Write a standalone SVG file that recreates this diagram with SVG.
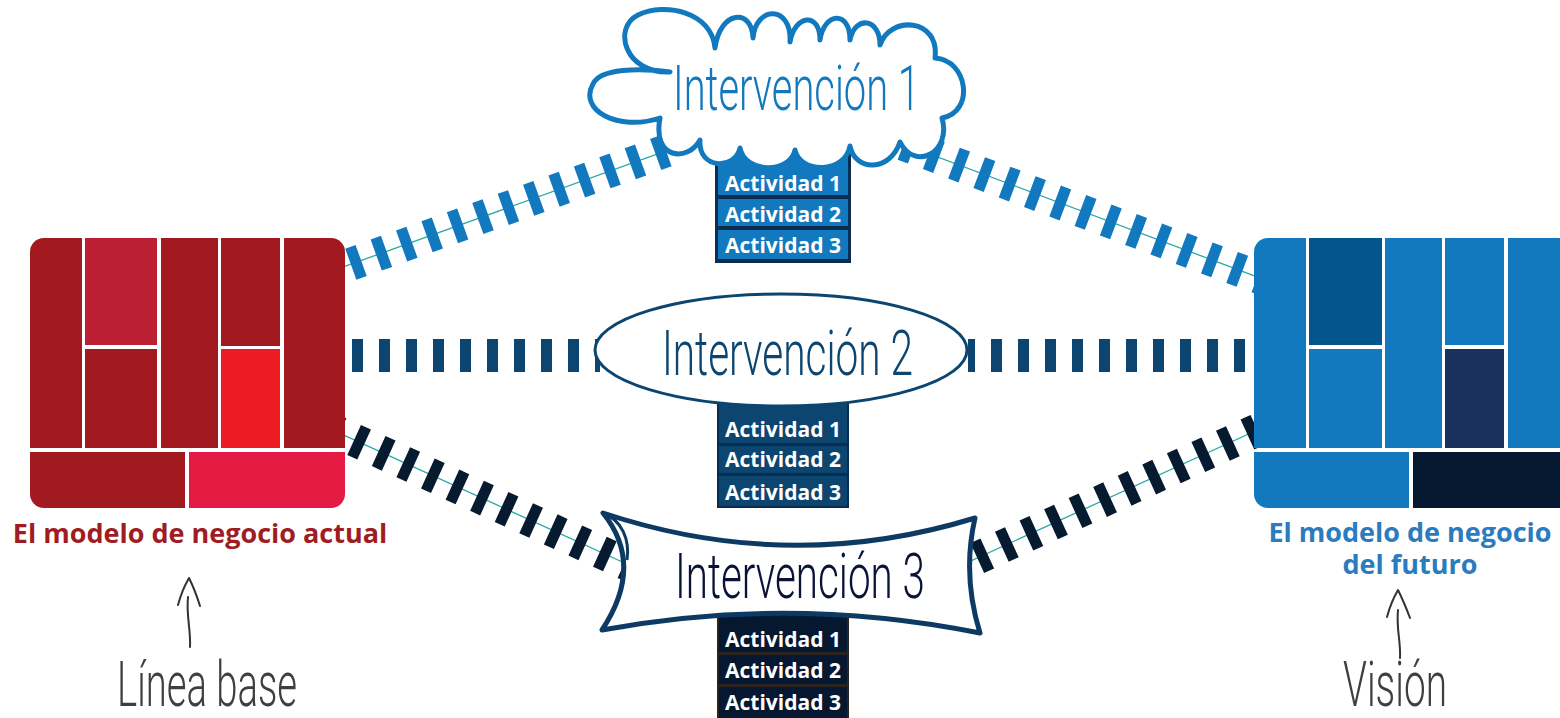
<svg xmlns="http://www.w3.org/2000/svg" width="1560" height="718" viewBox="0 0 1560 718">
<style>
.act{font-family:"Open Sans","Liberation Sans",sans-serif;font-weight:700;font-size:21px;fill:#ffffff;text-anchor:middle}
.thin{font-family:Roboto,"Liberation Sans",sans-serif;font-weight:300;font-size:63px}
.big{font-family:"Open Sans","Liberation Sans",sans-serif;font-weight:700;font-size:27px;text-anchor:middle}
.dash{fill:none;stroke-width:33;stroke-dasharray:11 16}
.teal{fill:none;stroke:#27A9A6;stroke-width:1.3}
.arrow{fill:none;stroke:#333333;stroke-width:2;stroke-linecap:round;stroke-linejoin:round}
</style>
<defs>
<clipPath id="clipL"><rect x="30" y="238" width="315" height="270" rx="14"/></clipPath>
<clipPath id="clipR"><rect x="1254" y="238" width="320" height="270" rx="14"/></clipPath>
</defs>
<rect x="0" y="0" width="1560" height="718" fill="#ffffff"/>

<g id="connectors">
  <line class="teal" x1="330" y1="271.7" x2="680" y2="145.8"/>
  <line class="dash" stroke="#1279BE" stroke-dashoffset="4.9" x1="330" y1="271.7" x2="680" y2="145.8"/>
  <line class="teal" x1="880" y1="135.4" x2="1265" y2="279.8"/>
  <line class="dash" stroke="#1279BE" stroke-dashoffset="2" x1="880" y1="135.4" x2="1265" y2="279.8"/>
  <line class="dash" stroke="#0B4570" stroke-dashoffset="20" x1="345" y1="355.5" x2="600" y2="355.5"/>
  <line class="dash" stroke="#0B4570" stroke-dashoffset="4" x1="968" y1="355.5" x2="1254" y2="355.5"/>
  <line class="teal" x1="335" y1="431.2" x2="640" y2="570"/>
  <line class="dash" stroke="#061A30" stroke-dashoffset="6" x1="335" y1="431.2" x2="640" y2="570"/>
  <line class="teal" x1="960" y1="565.9" x2="1265" y2="426.5"/>
  <line class="dash" stroke="#061A30" stroke-dashoffset="8" x1="960" y1="565.9" x2="1265" y2="426.5"/>
</g>

<g id="modelo-actual">
  <g clip-path="url(#clipL)">
    <rect x="30" y="238" width="52" height="210" fill="#A21A1F"/>
    <rect x="85" y="238" width="72" height="107" fill="#BC1F33"/>
    <rect x="85" y="349" width="72" height="99" fill="#A21A1F"/>
    <rect x="161" y="238" width="57" height="210" fill="#A21A1F"/>
    <rect x="221" y="238" width="59" height="108" fill="#A21A1F"/>
    <rect x="221" y="349" width="59" height="99" fill="#ED1C24"/>
    <rect x="284" y="238" width="61" height="210" fill="#A21A1F"/>
    <rect x="30" y="452" width="155" height="56" fill="#A21A1F"/>
    <rect x="189" y="452" width="156" height="56" fill="#E61B43"/>
  </g>
  <text class="big" x="200" y="543" fill="#A01C23">El modelo de negocio actual</text>
</g>

<g id="modelo-futuro">
  <g clip-path="url(#clipR)">
    <rect x="1254" y="238" width="52" height="210" fill="#1279BE"/>
    <rect x="1309" y="238" width="73" height="107" fill="#03568D"/>
    <rect x="1309" y="349" width="73" height="99" fill="#1279BE"/>
    <rect x="1385" y="238" width="57" height="210" fill="#1279BE"/>
    <rect x="1445" y="238" width="59" height="107" fill="#1279BE"/>
    <rect x="1445" y="349" width="59" height="99" fill="#1A315E"/>
    <rect x="1508" y="238" width="66" height="210" fill="#1279BE"/>
    <rect x="1254" y="452" width="155" height="56" fill="#1279BE"/>
    <rect x="1413" y="452" width="161" height="56" fill="#061830"/>
  </g>
  <text class="big" x="1410" y="542" fill="#2B7BBF">El modelo de negocio</text>
  <text class="big" x="1410" y="574" fill="#2B7BBF">del futuro</text>
</g>

<g id="actividades-1">
  <rect x="715" y="133" width="136" height="130" fill="#0C2D52"/>
  <rect x="718" y="133" width="130" height="62" fill="#1279BE"/>
  <rect x="718" y="199" width="130" height="27" fill="#1279BE"/>
  <rect x="718" y="230" width="130" height="29" fill="#1279BE"/>
  <text class="act" x="783" y="191">Actividad 1</text>
  <text class="act" x="783" y="222">Actividad 2</text>
  <text class="act" x="783" y="253">Actividad 3</text>
</g>

<g id="actividades-2">
  <rect x="717" y="395" width="132" height="113" fill="#062E52"/>
  <rect x="719" y="395" width="128" height="48" fill="#0B4570"/>
  <rect x="719" y="446" width="128" height="27" fill="#0B4570"/>
  <rect x="719" y="476" width="128" height="30" fill="#0B4570"/>
  <text class="act" x="783" y="437">Actividad 1</text>
  <text class="act" x="783" y="467">Actividad 2</text>
  <text class="act" x="783" y="500">Actividad 3</text>
</g>

<g id="actividades-3">
  <rect x="717" y="615" width="132" height="105" fill="#2A2320"/>
  <rect x="719" y="615" width="128" height="37" fill="#061830"/>
  <rect x="719" y="655" width="128" height="29" fill="#061830"/>
  <rect x="719" y="687" width="128" height="33" fill="#061830"/>
  <text class="act" x="783" y="647">Actividad 1</text>
  <text class="act" x="783" y="678">Actividad 2</text>
  <text class="act" x="783" y="710">Actividad 3</text>
</g>

<g id="intervencion-1">
  <path d="M 670,72 C 625,74 612,28 638,15 C 665,2 712,12 715,48 C 720,10 752,8 753,38 C 756,5 792,5 790,42 C 795,14 820,12 820,40 C 824,12 850,10 850,40 C 855,15 880,18 880,45 C 890,15 940,18 935,58 C 968,60 975,112 942,118 C 952,152 915,172 900,142 C 890,172 855,172 850,146 C 845,174 800,174 795,150 C 790,174 745,174 740,148 C 735,170 698,170 700,140 C 688,162 652,160 660,118 C 618,132 578,110 593,84 C 600,68 640,68 670,72 Z" fill="#ffffff" stroke="#1279BE" stroke-width="5" stroke-linejoin="round"/>
  <text class="thin" x="673" y="110" fill="#1279BE" textLength="247" lengthAdjust="spacingAndGlyphs">Intervención 1</text>
</g>

<g id="intervencion-2">
  <ellipse cx="781" cy="350" rx="186" ry="56" fill="#ffffff" stroke="#0B4570" stroke-width="3"/>
  <text class="thin" x="662" y="375" fill="#0B4570" textLength="251" lengthAdjust="spacingAndGlyphs">Intervención 2</text>
</g>

<g id="intervencion-3">
  <path d="M 603,513 Q 790,575 975,518 Q 962,575 980,633 Q 790,595 602,630 Q 645,565 603,513 Z" fill="#ffffff" stroke="#0D3A62" stroke-width="5" stroke-linejoin="round"/>
  <path d="M 603,513 C 622,520 630,540 627,560" fill="none" stroke="#0D3A62" stroke-width="3"/>
  <text class="thin" x="675" y="598" fill="#0B1238" textLength="250" lengthAdjust="spacingAndGlyphs">Intervención 3</text>
</g>

<g id="linea-base">
  <path class="arrow" d="M 188,597 C 186,615 191,630 190,647"/>
  <path class="arrow" d="M 178,605 Q 182,590 189,578 Q 195,590 200,606"/>
  <text class="thin" x="117" y="706" fill="#3F3F3F" font-size="57" textLength="180" lengthAdjust="spacingAndGlyphs">Línea base</text>
</g>

<g id="vision">
  <path class="arrow" d="M 1398,610 C 1396,628 1401,642 1400,658"/>
  <path class="arrow" d="M 1387,617 Q 1391,602 1398,590 Q 1404,602 1410,618"/>
  <text class="thin" x="1343" y="706" fill="#3F3F3F" font-size="57" textLength="104" lengthAdjust="spacingAndGlyphs">Visión</text>
</g>
</svg>
